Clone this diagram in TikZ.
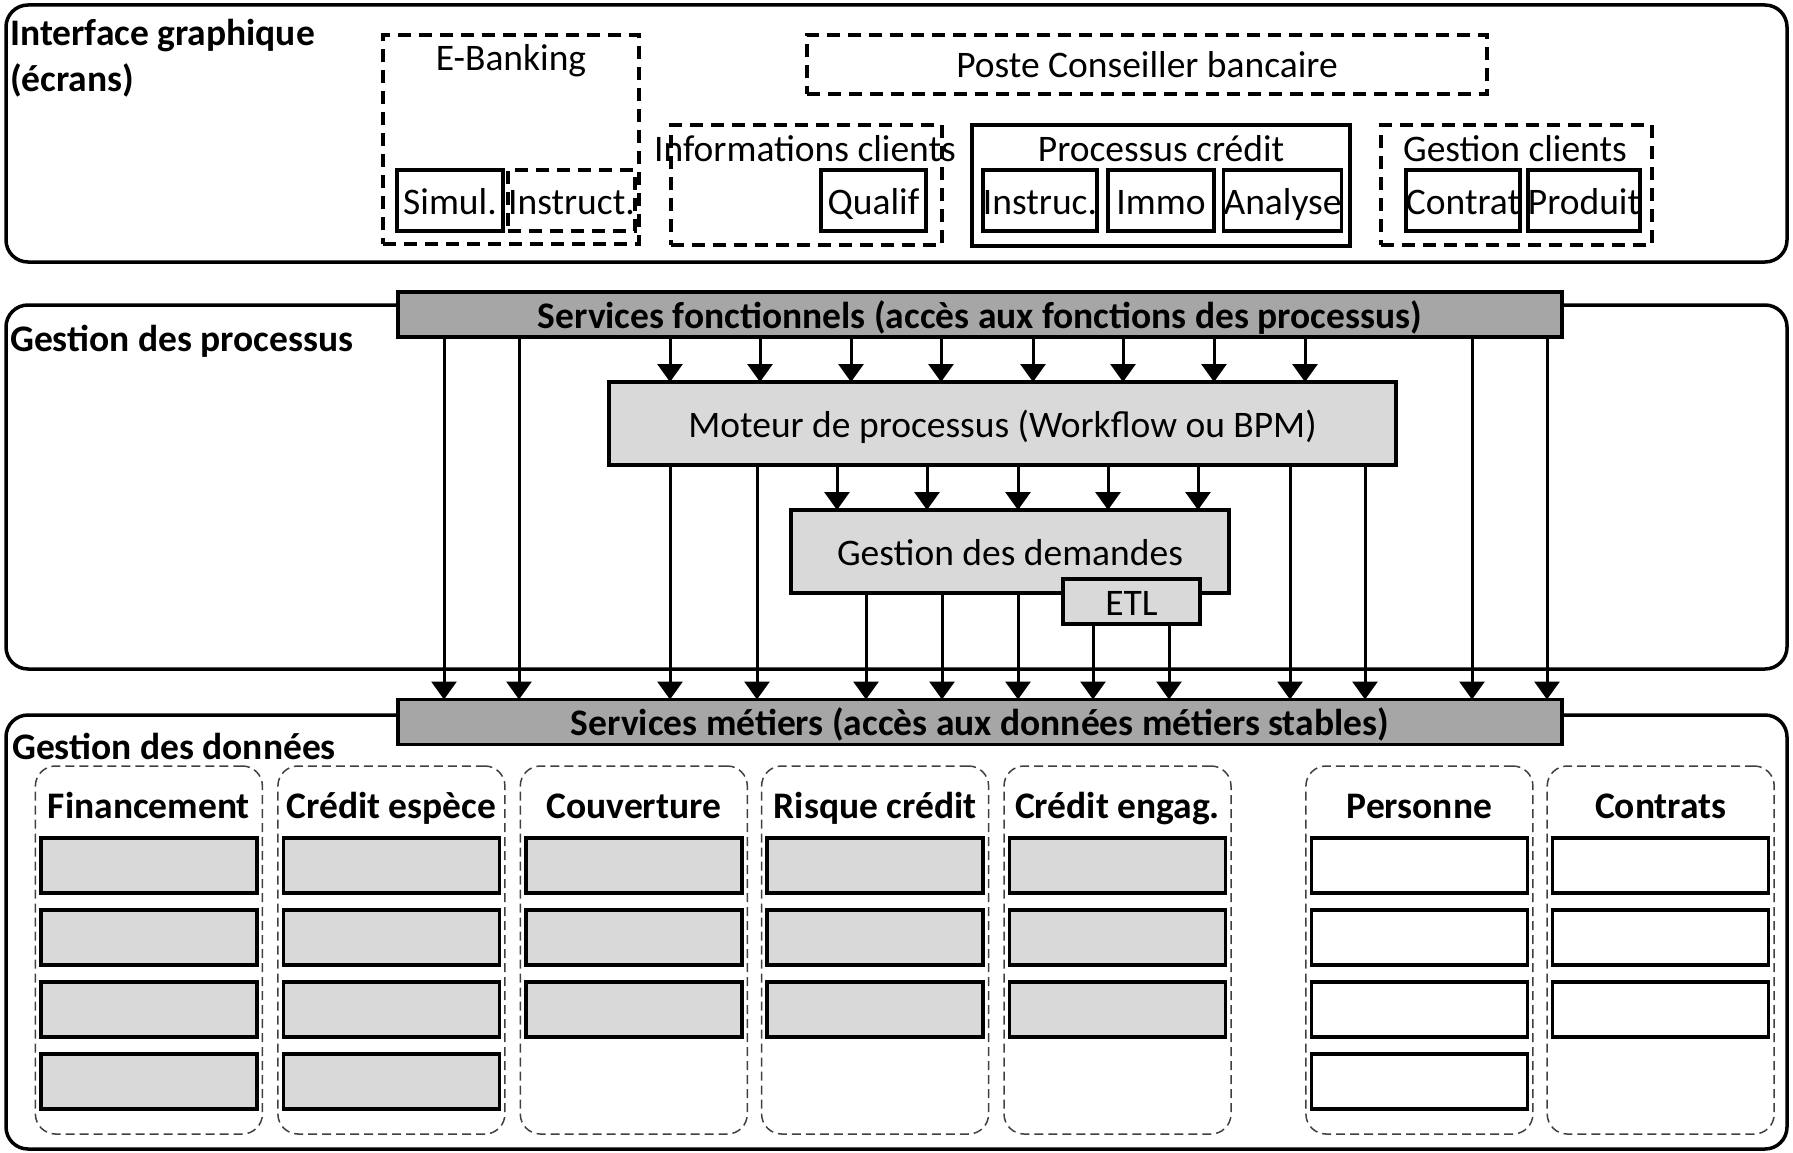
\documentclass[tikz,border=0pt]{standalone}
\usepackage{fontspec}
\setmainfont{Carlito}
\usetikzlibrary{arrows.meta}
\definecolor{bargray}{HTML}{A6A6A6}
\definecolor{boxgray}{HTML}{D9D9D9}
\begin{document}
\begin{tikzpicture}[x=1pt,y=-1pt,
  txt/.style={font=\fontsize{37.5}{45}\selectfont, text height=27pt, text depth=0pt, inner sep=0pt},
  btxt/.style={txt, font=\fontsize{37.5}{45}\selectfont\bfseries},
  panel/.style={draw, line width=3.5pt, rounded corners=22pt, inner sep=0pt, outer sep=0pt},
  sbox/.style={txt, draw, line width=3.5pt, outer sep=0pt},
  dbox/.style={txt, draw, line width=3.5pt, dash pattern=on 13pt off 8pt, outer sep=0pt},
  bar/.style={btxt, draw, line width=3.5pt, fill=bargray, outer sep=0pt, minimum width=1164pt, minimum height=45pt},
  gbox/.style={txt, draw, line width=3.5pt, fill=boxgray, outer sep=0pt},
  col/.style={draw=black!75, line width=1.5pt, dash pattern=on 9pt off 5pt, rounded corners=20pt, minimum width=227pt, minimum height=368pt, inner sep=0pt, outer sep=0pt},
  cell/.style={draw, line width=3.5pt, minimum width=216pt, minimum height=55pt, inner sep=0pt, outer sep=0pt},
  arr/.style={line width=3pt, -{Triangle[width=25pt,length=18pt]}}
]
\useasboundingbox (0,0) rectangle (1793,1153);

% panels
\node[panel, minimum width=1781pt, minimum height=257pt] (p1) at (896.5,133.5) {};
\node[panel, minimum width=1781pt, minimum height=364pt] (p2) at (896.5,487) {};
\node[panel, minimum width=1781pt, minimum height=434pt] (p3) at (896.5,932) {};

\node[btxt, anchor=west] (t1a) at (10,32.5) {Interface graphique};
\node[btxt, anchor=west] (t1b) at (10,78.5) {(écrans)};
\node[btxt, anchor=west] (t2) at (10,338) {Gestion des processus};
\node[btxt, anchor=west] (t3) at (12,746) {Gestion des données};

% top panel
\node[dbox, minimum width=256pt, minimum height=209pt] (ebank) at (511,139.5) {};
\node[txt] (ebankt) at (511,57.5) {E-Banking};
\node[sbox, minimum width=106pt, minimum height=61pt] (simul) at (450,200.5) {Simul.};
\node[dbox, minimum width=107pt, minimum height=61pt] (instr) at (571.5,200.5) {Instruct.};

\node[dbox, minimum width=680pt, minimum height=59pt] (poste) at (1147,64.5) {Poste Conseiller bancaire};

\node[dbox, minimum width=271pt, minimum height=120pt] (info) at (806.5,185) {};
\node[txt] (infot) at (805,148) {Informations clients};
\node[sbox, minimum width=105pt, minimum height=61pt] (qualif) at (873.5,200.5) {Qualif};

\node[sbox, minimum width=378pt, minimum height=121pt] (proc) at (1161,185.5) {};
\node[txt] (proct) at (1161,148) {Processus crédit};
\node[sbox, minimum width=106pt, minimum height=61pt] (instruc) at (1040,200.5) {Instruc.};
\node[sbox, minimum width=106pt, minimum height=61pt] (immo) at (1161,200.5) {Immo};
\node[sbox, minimum width=106pt, minimum height=61pt] (analyse) at (1282.5,200.5) {Analyse};

\node[dbox, minimum width=271pt, minimum height=120pt] (gcl) at (1516.5,185) {};
\node[txt] (gclt) at (1515,148) {Gestion clients};
\node[sbox, minimum width=106pt, minimum height=61pt] (contrat) at (1463,200.5) {Contrat};
\node[sbox, minimum width=106pt, minimum height=61pt] (produit) at (1584,200.5) {Produit};

% middle panel
\node[bar] (sf) at (980,314.5) {Services fonctionnels (accès aux fonctions des processus)};
\node[gbox, minimum width=787pt, minimum height=83pt] (mot) at (1002.5,423.5) {Moteur de processus (Workflow ou BPM)};
\node[gbox, minimum width=438pt, minimum height=83pt] (gdd) at (1010,551.5) {Gestion des demandes};
\node[gbox, minimum width=137pt, minimum height=45pt] (etl) at (1131.5,601.5) {ETL};
\node[bar] (sm) at (980,722) {Services métiers (accès aux données métiers stables)};

\foreach \x in {670,760,851,941,1033,1123,1214,1305}
  \draw[arr] (\x,0 |- sf.south) -- (\x,0 |- mot.north);
\foreach \x in {837,927,1018,1108,1198}
  \draw[arr] (\x,0 |- mot.south) -- (\x,0 |- gdd.north);
\foreach \x in {444,519,1472,1547}
  \draw[arr] (\x,0 |- sf.south) -- (\x,0 |- sm.north);
\foreach \x in {670,757,1290,1365}
  \draw[arr] (\x,0 |- mot.south) -- (\x,0 |- sm.north);
\foreach \x in {866,942,1018}
  \draw[arr] (\x,0 |- gdd.south) -- (\x,0 |- sm.north);
\foreach \x in {1093,1169}
  \draw[arr] (\x,0 |- etl.south) -- (\x,0 |- sm.north);

% bottom panel columns
\foreach \i/\cx/\name/\n/\fc in {1/148.9/Financement/4/boxgray, 2/391.4/Crédit espèce/4/boxgray, 3/633.8/Couverture/3/boxgray, 4/875.1/Risque crédit/3/boxgray, 5/1117.5/Crédit engag./3/boxgray, 6/1419.4/Personne/4/white, 7/1660.7/Contrats/3/white}{
  \node[col] (col\i) at (\cx,950) {};
  \node[btxt] (colt\i) at (\cx,805) {\name};
  \foreach \r/\cy in {1/865.6,2/937.7,3/1009.7,4/1081.7}{
    \ifnum\r>\n\relax\else
      \node[cell, fill=\fc] (cell\i-\r) at (\cx,\cy) {};
    \fi
  }
}
\end{tikzpicture}
\end{document}
